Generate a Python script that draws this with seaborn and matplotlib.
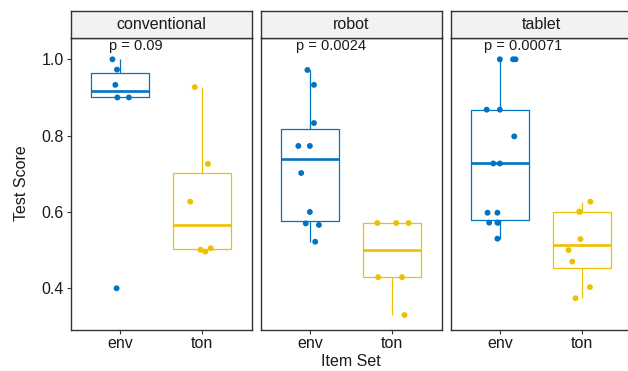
import numpy as np
import pandas as pd
import matplotlib
matplotlib.use("Agg")
import matplotlib.pyplot as plt
import seaborn as sns

# ---- data ----
panels = ["conventional", "robot", "tablet"]
item_sets = ["env", "ton"]
p_labels = ["p = 0.09", "p = 0.0024", "p = 0.00071"]

conv_env = [1.0, 0.973, 0.933, 0.90, 0.90, 0.40]
conv_ton = [0.927, 0.726, 0.627, 0.501, 0.496, 0.505]
robot_env = [0.972, 0.933, 0.833, 0.773, 0.773, 0.702, 0.600, 0.570, 0.566, 0.522]
robot_ton = [0.571, 0.571, 0.571, 0.429, 0.429, 0.33]
tablet_env = [1.0, 1.0, 1.0, 0.868, 0.868, 0.798, 0.727, 0.727,
              0.598, 0.598, 0.572, 0.572, 0.572, 0.530]
tablet_ton = [0.627, 0.601, 0.600, 0.529, 0.500, 0.470, 0.403, 0.374]

# horizontal jitter of the points (category units), as seen in the picture
conv_env_jit = [-0.09, -0.035, -0.055, -0.03, 0.11, -0.04]
conv_ton_jit = [-0.09, 0.07, -0.145, -0.02, 0.04, 0.105]
robot_env_jit = [-0.03, 0.05, 0.05, -0.14, 0.0, -0.105, 0.0, -0.05, 0.11, 0.065]
robot_ton_jit = [-0.18, 0.05, 0.2, -0.17, 0.12, 0.15]
tablet_env_jit = [0.0, 0.16, 0.19, -0.16, 0.0, 0.175, -0.08, 0.0,
                  -0.15, -0.03, -0.13, -0.02, -0.03, -0.03]
tablet_ton_jit = [0.1, -0.035, -0.03, -0.02, -0.165, -0.12, 0.095, -0.08]

series = {
    ("conventional", "env"): (conv_env, conv_env_jit),
    ("conventional", "ton"): (conv_ton, conv_ton_jit),
    ("robot", "env"): (robot_env, robot_env_jit),
    ("robot", "ton"): (robot_ton, robot_ton_jit),
    ("tablet", "env"): (tablet_env, tablet_env_jit),
    ("tablet", "ton"): (tablet_ton, tablet_ton_jit),
}
rows = []
for (pan, s), (vals, jit) in series.items():
    for v, j in zip(vals, jit):
        rows.append({"panel": pan, "set": s, "score": v,
                     "xpos": item_sets.index(s) + j})
df = pd.DataFrame(rows)

palette = {"env": "#0073C2", "ton": "#EFC000"}

# ---- figure ----
sns.set_style("white")
plt.rcParams["font.family"] = ["Liberation Sans", "DejaVu Sans"]
plt.rcParams["font.size"] = 11

W, H = 628, 371
fig = plt.figure(figsize=(W / 100, H / 100), dpi=100)
frame_col = "#333333"
text_col = "#1a1a1a"
FS = 11.5

lefts = [70.5, 260.5, 450.5]
pw = 181
top_px, bot_px, strip_top = 38, 329.5, 11

for i, pan in enumerate(panels):
    ax = fig.add_axes([lefts[i] / W, (H - bot_px) / H, pw / W, (bot_px - top_px) / H])
    sub = df[df["panel"] == pan]
    sns.boxplot(data=sub, x="set", y="score", hue="set", order=item_sets,
                hue_order=item_sets, palette=palette, fill=False, width=0.7,
                showfliers=False, showcaps=False, linewidth=0.9, whis=1.5,
                medianprops={"linewidth": 1.9}, legend=False, ax=ax)
    sns.scatterplot(data=sub, x="xpos", y="score", hue="set", hue_order=item_sets,
                    palette=palette, s=18, edgecolor="none", legend=False,
                    ax=ax, zorder=3)
    ax.set_xlim(-0.6, 1.6)
    ax.set_ylim(0.292, 1.0558)
    ax.set_xticks([0, 1])
    ax.set_xticklabels(item_sets)
    ax.set_yticks([0.4, 0.6, 0.8, 1.0])
    ax.set_xlabel("")
    ax.set_ylabel("")
    for sp in ax.spines.values():
        sp.set_visible(True)
        sp.set_color(frame_col)
        sp.set_linewidth(1.0)
    ax.tick_params(axis="x", length=3, width=0.8, color=frame_col,
                   labelsize=FS, labelcolor=text_col, pad=2, bottom=True)
    if i == 0:
        ax.tick_params(axis="y", length=3, width=0.8, color=frame_col,
                       labelsize=FS, labelcolor=text_col, pad=2, left=True)
        ax.set_yticklabels(["0.4", "0.6", "0.8", "1.0"])
    else:
        ax.tick_params(axis="y", left=False, labelleft=False)
    # p-value label
    ax.text([-0.134, -0.17, -0.195][i], 1.035, p_labels[i], ha="left",
            va="center", fontsize=10.5, color=text_col)

    # strip
    sax = fig.add_axes([lefts[i] / W, (H - top_px) / H, pw / W, (top_px - strip_top) / H])
    sax.set_facecolor("#F2F2F2")
    sax.set_xticks([])
    sax.set_yticks([])
    for sp in sax.spines.values():
        sp.set_visible(True)
        sp.set_color(frame_col)
        sp.set_linewidth(1.0)
    sax.text(0.5, 0.5, pan, ha="center", va="center", fontsize=FS,
             color=text_col, transform=sax.transAxes)

fig.text(351 / W, 1 - 362 / H, "Item Set", ha="center", va="center",
         fontsize=FS, color=text_col)
fig.text(22 / W, 1 - 183 / H, "Test Score", ha="center", va="center",
         rotation=90, fontsize=FS, color=text_col)

fig.savefig("out.png", dpi=100, facecolor="white")
